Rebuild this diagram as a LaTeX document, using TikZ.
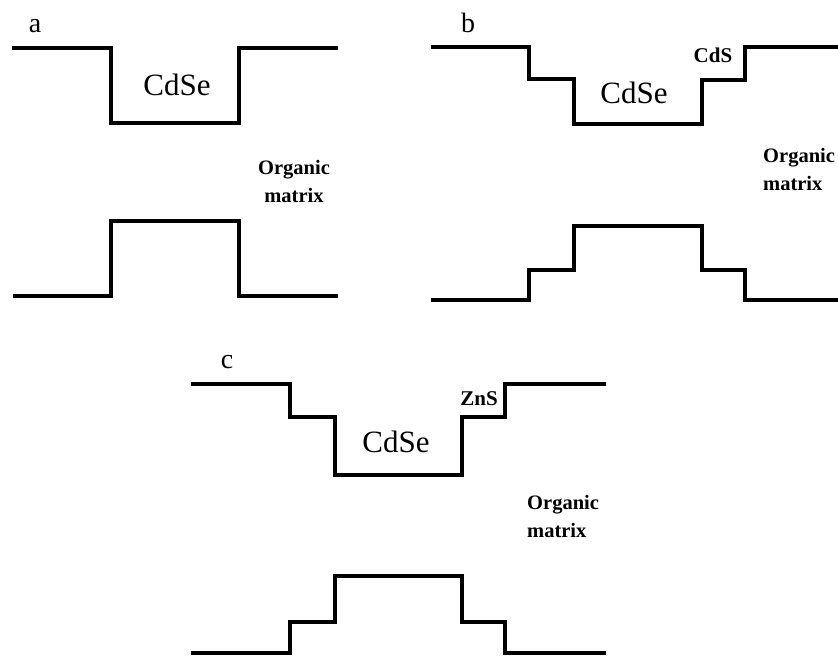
\documentclass[tikz,border=0pt]{standalone}
\usepackage{fontspec}
\setmainfont{Liberation Serif}
\begin{document}
\begin{tikzpicture}[x=1pt,y=-1pt,
  band/.style={line width=3.6pt,line join=miter,black},
  lbl/.style={anchor=base,inner sep=0pt,font=\fontsize{28}{30}\selectfont},
  mat/.style={anchor=base,inner sep=0pt,font=\fontsize{31}{33}\selectfont},
  shell/.style={anchor=base,inner sep=0pt,font=\bfseries\fontsize{21}{23}\selectfont},
  org/.style={anchor=base west,inner sep=0pt,align=left,font=\bfseries\fontsize{20.5}{28}\selectfont}]
\useasboundingbox (0,0) rectangle (838,657);
% panel a
\draw[band] (12,48) -- (111,48) -- (111,123) -- (239,123) -- (239,48) -- (338,48);
\draw[band] (13,296) -- (111,296) -- (111,221) -- (239,221) -- (239,296) -- (338,296);
\node[lbl] (la) at (35,32) {a};
\node[mat] (ma) at (177,95) {CdSe};
\node[org,align=center,anchor=base] (oa) at (294,202) {Organic\\matrix};
% panel b
\draw[band] (431,47) -- (529,47) -- (529,79) -- (574,79) -- (574,124) -- (702,124) -- (702,80) -- (745,80) -- (745,47) -- (838,47);
\draw[band] (431,300) -- (529,300) -- (529,270) -- (574,270) -- (574,226) -- (702,226) -- (702,270) -- (745,270) -- (745,300) -- (838,300);
\node[lbl] (lb) at (468,32) {b};
\node[mat] (mb) at (634,103) {CdSe};
\node[shell] (sb) at (713,62) {CdS};
\node[org] (ob) at (763,190) {Organic\\matrix};
% panel c
\draw[band] (191,384) -- (290,384) -- (290,417) -- (335,417) -- (335,475) -- (462,475) -- (462,417) -- (505,417) -- (505,384) -- (606,384);
\draw[band] (191,653) -- (290,653) -- (290,622) -- (335,622) -- (335,576) -- (462,576) -- (462,622) -- (505,622) -- (505,653) -- (606,653);
\node[lbl] (lc) at (227,368) {c};
\node[mat] (mc) at (396,452) {CdSe};
\node[shell] (sc) at (479,405) {ZnS};
\node[org] (oc) at (527,537) {Organic\\matrix};
\end{tikzpicture}
\end{document}
